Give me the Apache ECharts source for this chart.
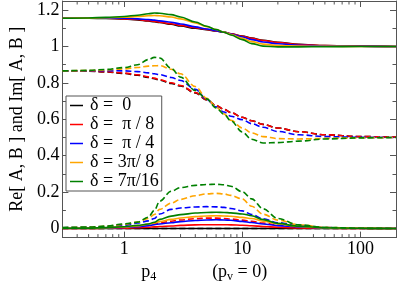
<!DOCTYPE html>
<html><head><meta charset="utf-8">
<script src="https://cdn.jsdelivr.net/npm/echarts@6/dist/echarts.min.js"></script>
<style>html,body{margin:0;padding:0;background:#fff}#c{width:399px;height:288px}</style>
</head><body><div id="c"></div>
<script>
// ---- data ----
const pValues = [0.3,0.5,0.7,1,1.3,1.6,1.8,2,2.5,3,4,5,6,7,8,10,12,15,20,30,50,100,200];

const deltaNames = ['δ =  0','δ =  π / 8','δ =  π / 4','δ = 3π/ 8','δ = 7π/16'];
const deltaColors = ['#000000','#ff0000','#0000ff','#ffa500','#008000'];

// upper solid curves (2/sqrt3 -> 1)
const upperSolidD0 = [1.155,1.155,1.154,1.151,1.146,1.140,1.136,1.132,1.122,1.113,1.100,1.092,1.085,1.078,1.070,1.057,1.046,1.034,1.023,1.012,1.005,1.002,1.000];
const upperSolidD1 = [1.155,1.155,1.155,1.152,1.148,1.142,1.138,1.134,1.125,1.116,1.103,1.094,1.086,1.079,1.070,1.056,1.045,1.033,1.022,1.011,1.005,1.002,1.000];
const upperSolidD2 = [1.155,1.156,1.156,1.155,1.152,1.148,1.145,1.141,1.133,1.124,1.108,1.096,1.087,1.079,1.069,1.052,1.038,1.025,1.015,1.007,1.003,1.001,1.000];
const upperSolidD3 = [1.155,1.156,1.158,1.161,1.165,1.169,1.170,1.169,1.162,1.152,1.130,1.109,1.093,1.079,1.066,1.045,1.027,1.013,1.005,1.002,1.001,1.000,1.000];
const upperSolidD4 = [1.155,1.157,1.160,1.165,1.172,1.180,1.184,1.183,1.175,1.162,1.135,1.111,1.093,1.078,1.063,1.038,1.016,1.002,0.998,0.998,0.999,1.000,1.000];

// upper dashed curves (sqrt3/2 -> 0.5)
const upperDashedD0 = [0.866,0.864,0.860,0.852,0.842,0.830,0.823,0.815,0.797,0.783,0.745,0.706,0.676,0.655,0.637,0.611,0.592,0.572,0.552,0.532,0.515,0.505,0.502];
const upperDashedD1 = [0.866,0.865,0.861,0.854,0.845,0.833,0.826,0.818,0.801,0.786,0.747,0.707,0.676,0.655,0.637,0.611,0.592,0.572,0.552,0.532,0.515,0.505,0.502];
const upperDashedD2 = [0.866,0.867,0.867,0.866,0.862,0.855,0.850,0.845,0.830,0.813,0.765,0.710,0.668,0.640,0.617,0.598,0.576,0.556,0.533,0.515,0.505,0.501,0.500];
const upperDashedD3 = [0.866,0.868,0.871,0.877,0.885,0.892,0.894,0.895,0.875,0.850,0.780,0.715,0.668,0.630,0.595,0.552,0.525,0.505,0.494,0.492,0.495,0.499,0.500];
const upperDashedD4 = [0.866,0.869,0.874,0.884,0.900,0.928,0.940,0.937,0.880,0.832,0.758,0.712,0.662,0.628,0.592,0.530,0.490,0.470,0.472,0.480,0.492,0.498,0.500];

// lower solid curves
const lowerSolidD0 = [0,0,0,0,0,0,0,0,0,0,0,0,0,0,0,0,0,0,0,0,0,0,0];
const lowerSolidD1 = [0,0.0005,0.001,0.002,0.004,0.007,0.009,0.011,0.014,0.017,0.020,0.021,0.021,0.021,0.020,0.018,0.015,0.011,0.007,0.003,0.001,0,0];
const lowerSolidD2 = [0.001,0.002,0.003,0.006,0.010,0.016,0.021,0.025,0.032,0.038,0.044,0.047,0.048,0.047,0.045,0.039,0.033,0.025,0.016,0.008,0.003,0.001,0];
const lowerSolidD3 = [0.001,0.002,0.004,0.008,0.014,0.024,0.031,0.038,0.050,0.058,0.065,0.069,0.070,0.069,0.067,0.061,0.055,0.040,0.025,0.011,0.004,0.001,0];
const lowerSolidD4 = [0.001,0.002,0.005,0.010,0.017,0.025,0.034,0.050,0.068,0.076,0.085,0.088,0.089,0.088,0.086,0.080,0.070,0.049,0.028,0.012,0.004,0.001,0];

// lower dashed curves
const lowerDashedD0 = [0,0,0,0,0,0,0,0,0,0,0,0,0,0,0,0,0,0,0,0,0,0,0];
const lowerDashedD1 = [0.002,0.003,0.005,0.008,0.013,0.020,0.026,0.031,0.040,0.047,0.054,0.057,0.057,0.055,0.052,0.046,0.039,0.030,0.019,0.009,0.003,0.001,0];
const lowerDashedD2 = [0.004,0.006,0.010,0.018,0.030,0.042,0.055,0.080,0.105,0.113,0.118,0.120,0.119,0.116,0.110,0.097,0.077,0.053,0.032,0.016,0.005,0.001,0];
const lowerDashedD3 = [0.004,0.007,0.012,0.022,0.035,0.055,0.077,0.105,0.140,0.160,0.180,0.190,0.193,0.190,0.182,0.162,0.122,0.078,0.046,0.021,0.006,0.001,0];
const lowerDashedD4 = [0.005,0.008,0.013,0.025,0.035,0.062,0.100,0.150,0.205,0.225,0.237,0.242,0.243,0.240,0.232,0.202,0.163,0.108,0.055,0.020,0.006,0.001,0];

const xTickLabels = [1, 10, 100];
const xMinorTickValues = [0.4,0.5,0.6,0.7,0.8,0.9,2,3,4,5,6,7,8,9,20,30,40,50,60,70,80,90];
const yTickLabels = [0, 0.2, 0.4, 0.6, 0.8, 1, 1.2];

// ---- chart ----
const FONT = 'Liberation Serif';
const FRAME = '#555555';
const groups = [
  [upperSolidD0, upperDashedD0, lowerSolidD0, lowerDashedD0],
  [upperSolidD1, upperDashedD1, lowerSolidD1, lowerDashedD1],
  [upperSolidD2, upperDashedD2, lowerSolidD2, lowerDashedD2],
  [upperSolidD3, upperDashedD3, lowerSolidD3, lowerDashedD3],
  [upperSolidD4, upperDashedD4, lowerSolidD4, lowerDashedD4]
];
const series = [];
groups.forEach((g, i) => {
  g.forEach((arr, k) => {
    const dashed = (k % 2) === 1;
    series.push({
      type: 'line', name: deltaNames[i], xAxisIndex: 0, yAxisIndex: 0,
      data: pValues.map((p, j) => [p, arr[j]]),
      showSymbol: false, symbol: 'none', smooth: 0.35, smoothMonotone: 'x',
      color: deltaColors[i],
      lineStyle: { color: deltaColors[i], width: 1.6, type: dashed ? [6, 3] : 'solid' },
      emphasis: { disabled: true }, silent: true, z: 3
    });
  });
});
series.push({
  type: 'custom', xAxisIndex: 0, yAxisIndex: 0, silent: true, clip: false, z: 5,
  data: xMinorTickValues.map(v => [v, 0]),
  renderItem: (params, api) => {
    const x = api.coord([api.value(0), 0])[0];
    const cs = params.coordSys;
    const yb = cs.y + cs.height, yt = cs.y;
    return { type: 'group', children: [
      { type: 'line', shape: { x1: x, y1: yb, x2: x, y2: yb - 3.5 }, style: { stroke: FRAME, lineWidth: 1 } },
      { type: 'line', shape: { x1: x, y1: yt, x2: x, y2: yt + 3.5 }, style: { stroke: FRAME, lineWidth: 1 } }
    ]};
  }
});

const isLabelX = v => xTickLabels.some(t => Math.abs(t - v) < 1e-6 * t);
const isLabelY = v => yTickLabels.some(t => Math.abs(t - v) < 1e-9);

function yAx(pos, split, len, labels, line) {
  return {
    type: 'value', position: pos, min: -0.05, max: 1.25, splitNumber: split,
    axisLine: { show: line, onZero: false, lineStyle: { color: FRAME, width: 1 } },
    axisTick: { show: true, inside: true, length: len, lineStyle: { color: FRAME, width: 1 } },
    axisLabel: labels ? { show: true, fontFamily: FONT, fontSize: 18, color: '#000', margin: 3,
      formatter: v => isLabelY(v) ? String(Math.round(v * 10) / 10) : '' } : { show: false },
    splitLine: { show: false }
  };
}

const chart = echarts.init(document.getElementById('c'), null, { renderer: 'canvas' });
chart.setOption({
  animation: false,
  backgroundColor: '#ffffff',
  grid: { left: 48, right: 1, top: 1, bottom: 43, containLabel: false },
  legend: {
    data: deltaNames, orient: 'vertical', left: 66, top: 96,
    icon: 'rect', itemWidth: 13, itemHeight: 1.5, itemGap: 0,
    backgroundColor: '#fff', borderColor: FRAME, borderWidth: 1, borderRadius: 0,
    padding: [0, 3, 0, 4], selectedMode: false,
    textStyle: { fontFamily: FONT, fontSize: 18, color: '#000', lineHeight: 19, padding: [0, 0, 0, 2] }
  },
  xAxis: [
    { type: 'log', logBase: 10, min: 0.3, max: 200, position: 'bottom',
      axisLine: { show: true, onZero: false, lineStyle: { color: FRAME, width: 1 } },
      axisTick: { show: true, inside: true, length: 6, lineStyle: { color: FRAME, width: 1 } },
      axisLabel: { fontFamily: FONT, fontSize: 18, color: '#000', margin: 3,
        formatter: v => isLabelX(v) ? String(Math.round(v)) : '' },
      splitLine: { show: false },
      name: '{p|p}{sub|4}{gap|}{p|(p}{sub|v}{p| = 0)}',
      nameLocation: 'middle', nameGap: 22,
      nameTextStyle: { color: '#000', padding: [0, 50, 0, 0],
        rich: {
          p: { fontFamily: FONT, fontSize: 18, color: '#000' },
          sub: { fontFamily: FONT, fontSize: 12, color: '#000', padding: [9, 0, 0, 0] },
          gap: { width: 56 }
        } }
    },
    { type: 'log', logBase: 10, min: 0.3, max: 200, position: 'top',
      axisLine: { show: true, onZero: false, lineStyle: { color: FRAME, width: 1 } },
      axisTick: { show: true, inside: true, length: 6, lineStyle: { color: FRAME, width: 1 } },
      axisLabel: { show: false }, splitLine: { show: false } }
  ],
  yAxis: [
    Object.assign(yAx('left', 6, 6, true, true), {
      name: 'Re[ A, B ] and Im[ A, B ]', nameLocation: 'middle', nameGap: 36,
      nameTextStyle: { fontFamily: FONT, fontSize: 18, color: '#000' } }),
    yAx('left', 13, 3.5, false, false),
    yAx('right', 6, 6, false, true),
    yAx('right', 13, 3.5, false, false)
  ],
  series: series
});
</script>
</body></html>
